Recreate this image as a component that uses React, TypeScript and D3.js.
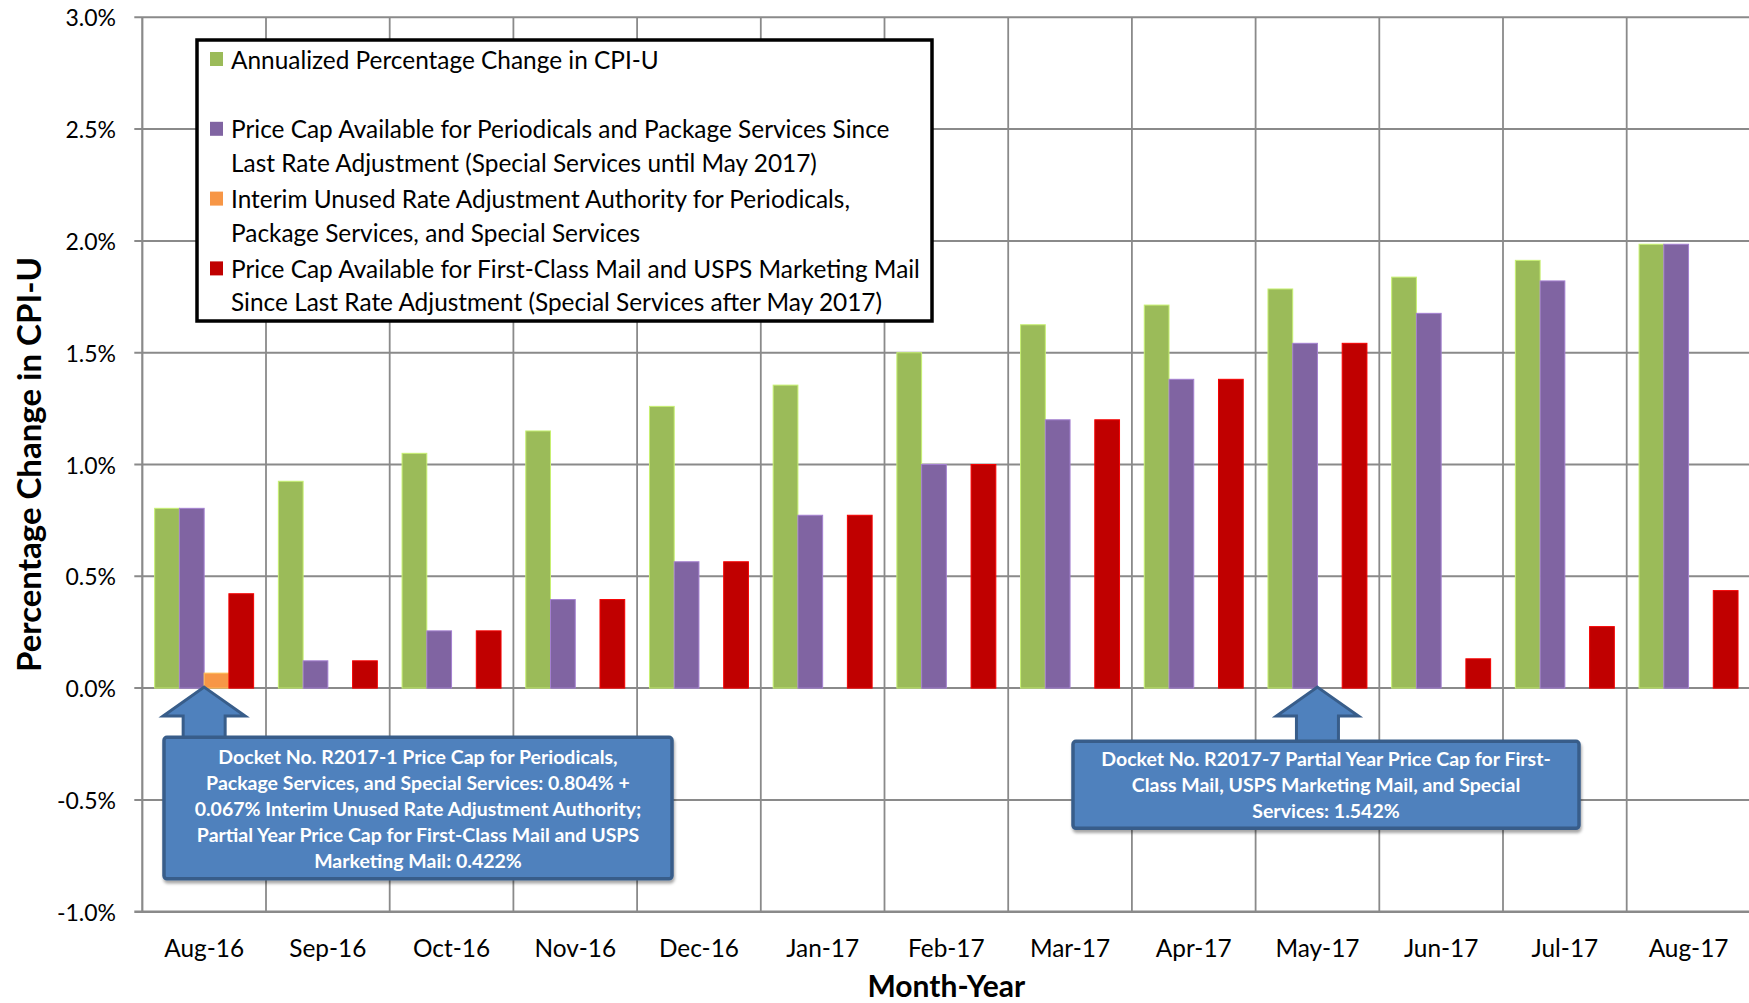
import React from 'react'
import * as d3 from 'd3'

const categories = ['Aug-16', 'Sep-16', 'Oct-16', 'Nov-16', 'Dec-16', 'Jan-17', 'Feb-17', 'Mar-17', 'Apr-17', 'May-17', 'Jun-17', 'Jul-17', 'Aug-17']

// percent values
const cpiU = [0.804, 0.925, 1.05, 1.15, 1.26, 1.355, 1.5, 1.625, 1.713, 1.785, 1.838, 1.913, 1.985]
const periodicalsCap = [0.804, 0.122, 0.256, 0.396, 0.565, 0.773, 1.0, 1.2, 1.381, 1.542, 1.676, 1.821, 1.985]
const interimAuthority = [0.067, 0, 0, 0, 0, 0, 0, 0, 0, 0, 0, 0, 0]
const firstClassCap = [0.422, 0.122, 0.256, 0.396, 0.565, 0.773, 1.0, 1.2, 1.381, 1.542, 0.131, 0.275, 0.436]

const yTicks = [-1, -0.5, 0, 0.5, 1, 1.5, 2, 2.5, 3]

const seriesKeys = ['cpi', 'periodicals', 'interim', 'firstClass']
const seriesColors = ['#9BBB59', '#8064A2', '#F79646', '#C00000']
const seriesValues = [cpiU, periodicalsCap, interimAuthority, firstClassCap]

const legendLabels = [
  ['Annualized Percentage Change in CPI-U', ''],
  ['Price Cap Available for Periodicals and Package Services Since', 'Last Rate Adjustment (Special Services until May 2017)'],
  ['Interim Unused Rate Adjustment Authority for Periodicals,', 'Package Services, and Special Services'],
  ['Price Cap Available for First-Class Mail and USPS Marketing Mail', 'Since Last Rate Adjustment (Special Services after May 2017)'],
]

const callouts = [
  {
    category: 'Aug-16',
    lines: [
      'Docket No. R2017-1 Price Cap for Periodicals,',
      'Package Services, and Special Services: 0.804% +',
      '0.067% Interim Unused Rate Adjustment Authority;',
      'Partial Year Price Cap for First-Class Mail and USPS',
      'Marketing Mail: 0.422%',
    ],
    x0: 164, x1: 672, top: -0.22, bottom: -0.853,
  },
  {
    category: 'May-17',
    lines: [
      'Docket No. R2017-7 Partial Year Price Cap for First-',
      'Class Mail, USPS Marketing Mail, and Special',
      'Services: 1.542%',
    ],
    x0: 1073, x1: 1579, top: -0.238, bottom: -0.627,
  },
]

const W = 1749
const H = 1003
const FONT = 'Lato, "Open Sans", sans-serif'
const GRID = '#8A8A8A'

export default function App() {
  const left = 142.3
  const right = 1750.4
  const x = d3.scaleBand<string>().domain(categories).range([left, right]).padding(0)
  const bw = x.bandwidth()
  const xs = d3.scaleBand<string>().domain(seriesKeys).range([bw * 0.1, bw * 0.9]).padding(0)
  const y = d3.scaleLinear().domain([-1, 3]).range([911.7, 17.3])

  const fmt = (v: number) => `${v.toFixed(1)}%`

  return (
    <svg width={W} height={H} style={{ position: 'absolute', left: 0, top: 0, background: '#fff' }} fontFamily={FONT}>
      <defs>
        <filter id="shadow" x="-5%" y="-5%" width="115%" height="125%">
          <feDropShadow dx="1" dy="3" stdDeviation="1.5" floodColor="#000" floodOpacity="0.35" />
        </filter>
      </defs>

      {/* horizontal grid + y ticks */}
      {yTicks.map((t) => (
        <g key={t}>
          <line x1={left - 8} x2={right} y1={y(t)} y2={y(t)} stroke={GRID} strokeWidth={t === -1 ? 2.6 : 2} />
          <text x={116} y={y(t)} textAnchor="end" dominantBaseline="central" fontSize={23} fill="#000">
            {fmt(t)}
          </text>
        </g>
      ))}

      {/* vertical grid at category boundaries */}
      {categories.map((c) => (
        <line key={c} x1={x(c)!} x2={x(c)!} y1={y(3)} y2={y(-1)} stroke={GRID} strokeWidth={c === categories[0] ? 2.2 : 1.8} />
      ))}

      {/* bars */}
      {categories.map((c, i) => (
        <g key={c} transform={`translate(${x(c)},0)`}>
          {seriesKeys.map((k, s) => {
            const v = seriesValues[s][i]
            if (!v) return null
            const col = seriesColors[s]
            return (
              <rect
                key={k}
                x={xs(k)!}
                width={xs.bandwidth()}
                y={y(v)}
                height={y(0) - y(v)}
                fill={col}
                stroke={d3.color(col)!.brighter(0.7).toString()}
                strokeWidth={1}
              />
            )
          })}
        </g>
      ))}

      {/* x tick labels */}
      {categories.map((c) => (
        <text key={c} x={x(c)! + bw / 2} y={947} textAnchor="middle" dominantBaseline="central" fontSize={24.4}>
          {c}
        </text>
      ))}

      {/* axis titles */}
      <text x={(left + right) / 2} y={985} textAnchor="middle" dominantBaseline="central" fontSize={30} fontWeight="bold">
        Month-Year
      </text>
      <text
        transform={`translate(28,${(y(3) + y(-1)) / 2}) rotate(-90)`}
        textAnchor="middle"
        dominantBaseline="central"
        fontSize={33}
        fontWeight="bold"
      >
        Percentage Change in CPI-U
      </text>

      {/* legend */}
      <g>
        <rect x={197} y={40} width={735} height={281} fill="#fff" stroke="#000" strokeWidth={3.5} />
        {legendLabels.map((lines, i) => {
          const row = i === 0 ? 0 : i * 2
          const cy = 59 + row * 34.9
          return (
            <g key={i}>
              <rect x={210} y={cy - 7} width={13} height={14} fill={seriesColors[i]} />
              {lines.map((ln, j) =>
                ln ? (
                  <text key={j} x={231} y={cy + j * 33.5} dominantBaseline="central" fontSize={24.4}>
                    {ln}
                  </text>
                ) : null,
              )}
            </g>
          )
        })}
      </g>

      {/* callouts */}
      {callouts.map((cb, i) => {
        const tipX = x(cb.category)! + bw / 2
        const tipY = y(0) - 1
        const top = y(cb.top)
        const bottom = y(cb.bottom)
        const headY = tipY + 29
        const arrow = [
          [tipX, tipY],
          [tipX + 41, headY],
          [tipX + 21, headY],
          [tipX + 21, top + 4],
          [tipX - 21, top + 4],
          [tipX - 21, headY],
          [tipX - 41, headY],
        ]
        const cx = (cb.x0 + cb.x1) / 2
        const lh = 26
        const firstY = (top + bottom) / 2 - ((cb.lines.length - 1) * lh) / 2
        return (
          <g key={i}>
            <path d={d3.line()(arrow as [number, number][])! + 'Z'} fill="#4F81BD" stroke="#385D8A" strokeWidth={3} strokeLinejoin="miter" />
            <rect
              x={cb.x0}
              y={top}
              width={cb.x1 - cb.x0}
              height={bottom - top}
              rx={3}
              fill="#4F81BD"
              stroke="#385D8A"
              strokeWidth={3.5}
              filter="url(#shadow)"
            />
            {cb.lines.map((ln, j) => (
              <text
                key={j}
                x={cx}
                y={firstY + j * lh}
                textAnchor="middle"
                dominantBaseline="central"
                fontSize={19.5}
                fontWeight="bold"
                fill="#fff"
              >
                {ln}
              </text>
            ))}
          </g>
        )
      })}
    </svg>
  )
}
